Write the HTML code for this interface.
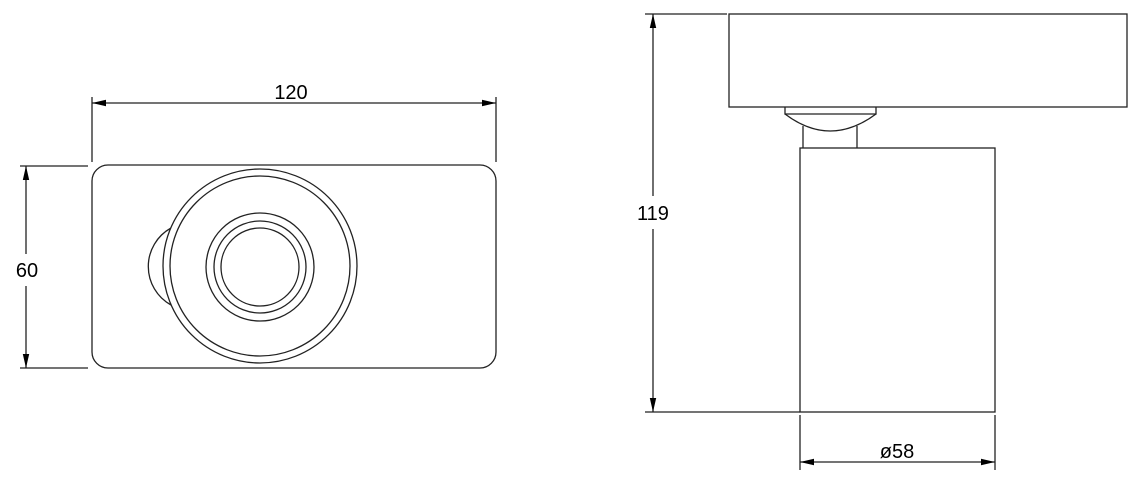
<!DOCTYPE html>
<html><head><style>body{margin:0;background:#fff}svg{display:block}</style></head><body>
<svg width="1145" height="484" viewBox="0 0 1145 484" xmlns="http://www.w3.org/2000/svg">
<defs>
<marker id="a" markerWidth="14" markerHeight="8" refX="14" refY="4" orient="auto" markerUnits="userSpaceOnUse"><path d="M0,0.8 L14,4 L0,7.2 Z" fill="#000"/></marker>
<marker id="b" markerWidth="14" markerHeight="8" refX="0" refY="4" orient="auto" markerUnits="userSpaceOnUse"><path d="M14,0.8 L0,4 L14,7.2 Z" fill="#000"/></marker>
</defs>
<g fill="none" stroke="#222" stroke-width="1.3">
<!-- left view -->
<rect x="92" y="165" width="404" height="203" rx="16"/>
<path d="M171,228 A44,44 0 0 0 171,305"/>
<circle cx="260" cy="266" r="97" fill="#fff"/>
<circle cx="260" cy="266" r="90"/>
<circle cx="260" cy="267" r="54"/>
<circle cx="260" cy="267" r="46"/>
<circle cx="260" cy="267" r="39"/>
<!-- dims left -->
<line x1="92" y1="97" x2="92" y2="162"/>
<line x1="496" y1="97" x2="496" y2="162"/>
<line x1="92" y1="103" x2="496" y2="103" marker-start="url(#b)" marker-end="url(#a)"/>
<line x1="20" y1="166" x2="88" y2="166"/>
<line x1="20" y1="368" x2="88" y2="368"/>
<line x1="26" y1="166" x2="26" y2="254" marker-start="url(#b)"/>
<line x1="26" y1="286" x2="26" y2="368" marker-end="url(#a)"/>
<!-- right view -->
<rect x="729" y="14" width="398" height="93"/>
<path d="M785,107 V114 H876 V107"/>
<path d="M785,114 Q830,148 876,114"/>
<path d="M803,126 V148 M857,126 V148"/>
<rect x="800" y="148" width="195" height="264"/>
<line x1="645" y1="14" x2="727" y2="14"/>
<line x1="645" y1="412" x2="800" y2="412"/>
<line x1="653" y1="14" x2="653" y2="196" marker-start="url(#b)"/>
<line x1="653" y1="229" x2="653" y2="412" marker-end="url(#a)"/>
<line x1="800" y1="415" x2="800" y2="470"/>
<line x1="995" y1="415" x2="995" y2="470"/>
<line x1="800" y1="462" x2="995" y2="462" marker-start="url(#b)" marker-end="url(#a)"/>
</g>
<g font-family="Liberation Sans, sans-serif" font-size="20" fill="#000" text-anchor="middle">
<text x="291" y="99">120</text>
<text x="27" y="277">60</text>
<text x="653" y="220">119</text>
<text x="897" y="458">ø58</text>
</g>
</svg>
</body></html>
